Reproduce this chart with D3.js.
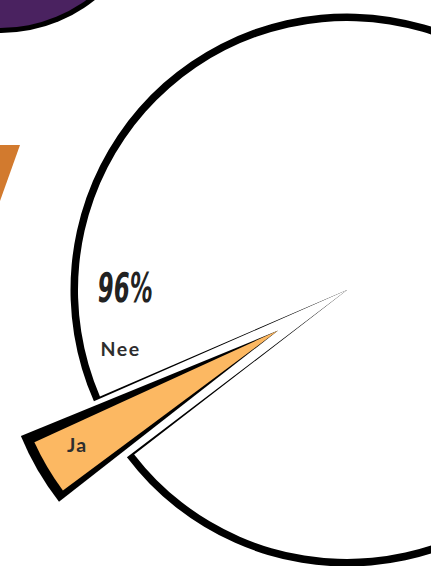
<!DOCTYPE html>
<html>
<head>
<meta charset="utf-8">
<script src="https://cdn.jsdelivr.net/npm/d3@7"></script>
<style>
  html, body { margin: 0; padding: 0; background: #ffffff; }
  svg { display: block; }
</style>
</head>
<body>
<svg id="chart" width="431" height="566"></svg>
<script>
// Answer shares (percent)
const categories = ["Nee", "Ja"];
const values = [96, 4];
const shareLabels = ["96%", "4%"];

const W = 431, H = 566;
const svg = d3.select("#chart");
svg.append("rect").attr("width", W).attr("height", H).attr("fill", "#ffffff");

const deg = d => d * Math.PI / 180;

// Neighbouring decorative pieces at the edges of the panel
const deco = svg.append("g");
deco.append("circle").attr("cx", 1).attr("cy", -117).attr("r", 150).attr("fill", "#000");
deco.append("circle").attr("cx", 0).attr("cy", -119).attr("r", 147).attr("fill", "#4a2260");
deco.append("path")
  .attr("d", d3.line()([[0, 145], [20, 145], [0, 201]]) + "Z")
  .attr("fill", "#d27a2e");

// Main pie
const cx = 347, cy = 290, R = 269, rim = 7.5;
const start = deg(246.7);
const pie = d3.pie().sort(null).value(d => d)
  .startAngle(start).endAngle(start + 2 * Math.PI);
const slices = pie(values);

const g = svg.append("g").attr("transform", `translate(${cx},${cy})`);

// "Nee" slice: black outline wedge underneath, white wedge on top
const nee = slices[0];
g.append("path")
  .attr("d", d3.arc()({ innerRadius: 0, outerRadius: R + rim,
    startAngle: nee.startAngle - deg(0.45), endAngle: nee.endAngle + deg(0.45) }))
  .attr("fill", "#000");
g.append("path")
  .attr("d", d3.arc()({ innerRadius: 0, outerRadius: R,
    startAngle: nee.startAngle, endAngle: nee.endAngle }))
  .attr("fill", "#ffffff");

// "Ja" slice pulled out along its bisector
const ja = slices[1];
const mid = (ja.startAngle + ja.endAngle) / 2;
const pull = 80;
const [px, py] = d3.pointRadial(mid, pull);
const jg = g.append("g").attr("transform", `translate(${px},${py})`);
jg.append("path")
  .attr("d", d3.arc()({ innerRadius: 0, outerRadius: R + 9,
    startAngle: ja.startAngle - deg(0.3), endAngle: ja.endAngle + deg(1.0) }))
  .attr("fill", "#000");
jg.append("path")
  .attr("d", d3.arc()({ innerRadius: 0, outerRadius: R - 1,
    startAngle: ja.startAngle + deg(1.1), endAngle: ja.endAngle - deg(1.3) }))
  .attr("fill", "#fcb862");

// Labels
const labelFont = "Lato, 'Open Sans', sans-serif";
const [jx, jy] = d3.pointRadial(mid + deg(0.9), 231);
jg.append("text")
  .attr("x", jx).attr("y", jy + 7)
  .attr("text-anchor", "middle")
  .attr("font-family", labelFont).attr("font-weight", 700)
  .attr("font-size", 19.5).attr("letter-spacing", 1.3)
  .attr("fill", "#2e2e2e")
  .text(categories[1]);

const [nx, ny] = d3.pointRadial(ja.endAngle + deg(8.7), 234);
g.append("text")
  .attr("x", nx).attr("y", ny + 7)
  .attr("text-anchor", "middle")
  .attr("font-family", labelFont).attr("font-weight", 700)
  .attr("font-size", 19.5).attr("letter-spacing", 1.5)
  .attr("fill", "#2e2e2e")
  .text(categories[0]);

const [vx, vy] = d3.pointRadial(ja.endAngle + deg(24.1), 223);
g.append("text")
  .attr("transform", `translate(${vx},${vy + 15}) skewX(-5)`)
  .attr("text-anchor", "middle")
  .attr("font-family", "'DejaVu Sans Condensed', 'DejaVu Sans', sans-serif")
  .attr("font-weight", 700)
  .attr("font-size", 41)
  .attr("textLength", 55).attr("lengthAdjust", "spacingAndGlyphs")
  .attr("fill", "#222")
  .text(shareLabels[0]);
</script>
</body>
</html>
